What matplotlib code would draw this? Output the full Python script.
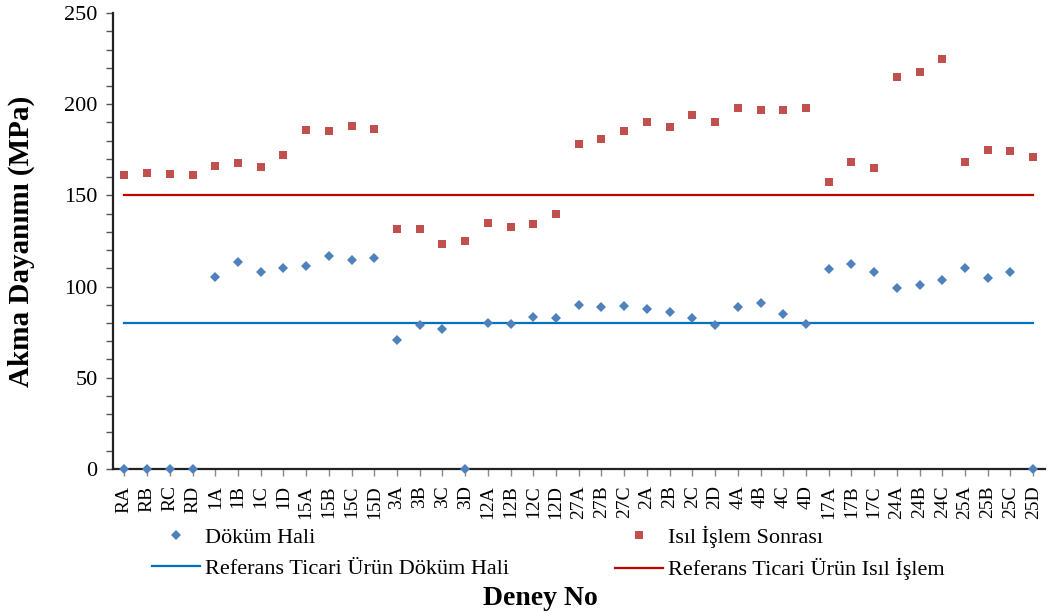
import matplotlib
matplotlib.use("Agg")
import matplotlib.pyplot as plt
from matplotlib.ticker import MultipleLocator

plt.rcParams['font.family'] = ['Liberation Serif', 'DejaVu Serif']

# deney kodlari
categories = ['RA', 'RB', 'RC', 'RD', '1A', '1B', '1C', '1D',
              '15A', '15B', '15C', '15D', '3A', '3B', '3C', '3D',
              '12A', '12B', '12C', '12D', '27A', '27B', '27C',
              '2A', '2B', '2C', '2D', '4A', '4B', '4C', '4D',
              '17A', '17B', '17C', '24A', '24B', '24C',
              '25A', '25B', '25C', '25D']

# akma dayanimi, dokum hali (MPa)
dokum = [0, 0, 0, 0, 105.4, 113.3, 108.1, 110.0,
         111.1, 116.7, 114.4, 115.5, 70.9, 79.0, 76.5, 0,
         79.8, 79.4, 83.3, 82.5, 89.7, 88.9, 89.3,
         87.7, 86.2, 82.5, 78.8, 88.8, 90.8, 85.1, 79.4,
         109.8, 112.2, 108.0, 99.3, 100.6, 103.7,
         110.0, 104.7, 108.0, 0]

# akma dayanimi, isil islem sonrasi (MPa)
isil = [161.0, 162.1, 161.5, 161.0, 165.9, 167.6, 165.4, 172.0,
        185.7, 185.1, 188.2, 186.4, 131.6, 131.4, 123.3, 125.1,
        135.0, 132.6, 134.5, 140.0, 178.3, 180.7, 185.1,
        190.1, 187.7, 194.1, 190.1, 197.8, 196.8, 196.8, 198.1,
        157.3, 168.5, 165.0, 214.7, 217.5, 224.6,
        168.5, 174.9, 174.3, 170.9]

ref_dokum = 80
ref_isil = 150

x = list(range(len(categories)))

fig = plt.figure(figsize=(10.49, 6.12), dpi=100)
ax = fig.add_axes([113/1049, 1-468.8/612, (1044.5-113)/1049, (468.8-13.1)/612])

l_ref1, = ax.plot(x, [ref_dokum]*len(x), color='#0070C0', lw=1.6, zorder=2)
l_ref2, = ax.plot(x, [ref_isil]*len(x), color='#C00000', lw=1.6, zorder=2)
l_dok, = ax.plot(x, dokum, ls='none', marker='D', ms=4.9, mew=0, color='#4F81BD',
                 clip_on=False, zorder=4)
l_isil, = ax.plot(x, isil, ls='none', marker='s', ms=6, mew=0, color='#C0504D',
                  clip_on=False, zorder=4)

ax.set_xlim(-0.5, len(x) - 0.5)
ax.set_ylim(0, 250)
ax.set_xticks(x)
ax.set_xticklabels(categories, rotation=90, fontsize=14)
ax.yaxis.set_major_locator(MultipleLocator(50))
ax.yaxis.set_minor_locator(MultipleLocator(10))
ax.tick_params(axis='y', which='both', direction='out', length=5, width=1,
               color='#555555', labelsize=16, pad=6)
ax.tick_params(axis='x', direction='out', length=5, width=1,
               color='#888888', pad=7)

for s in ['top', 'right']:
    ax.spines[s].set_visible(False)
for s in ['left', 'bottom']:
    ax.spines[s].set_linewidth(1.6)
    ax.spines[s].set_color('#222222')

ax.set_ylabel('Akma Dayanımı (MPa)', fontsize=21, fontweight='bold')
ax.yaxis.set_label_coords(-0.084, 0.5)
ax.set_xlabel('Deney No', fontsize=20, fontweight='bold', va='baseline')
ax.xaxis.set_label_coords((540-113)/931.5, -(605-468.8)/455.7)

# legend: iki sutun, sutun sirasina gore dolar
fig.legend([l_dok, l_ref1, l_isil, l_ref2],
           ['Döküm Hali', 'Referans Ticari Ürün Döküm Hali',
            'Isıl İşlem Sonrası', 'Referans Ticari Ürün Isıl İşlem'],
           ncol=2, loc='upper left', bbox_to_anchor=(152/1049, 1-526/612),
           frameon=False, fontsize=16, borderpad=0, borderaxespad=0,
           handlelength=2.15, handletextpad=0.25, labelspacing=0.45,
           columnspacing=4.75, numpoints=1)

fig.savefig('out.png', dpi=100)
